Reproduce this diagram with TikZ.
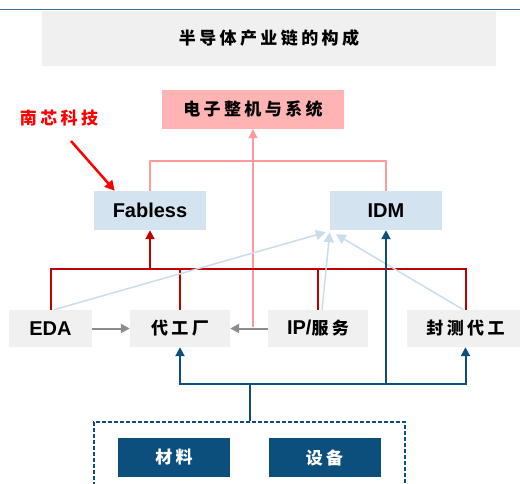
\documentclass[tikz,border=0pt]{standalone}
\usepackage{fontspec}
\setmainfont{Liberation Sans}
\newfontfamily\cjk[LetterSpace=20]{Noto Sans CJK SC}
\usetikzlibrary{arrows.meta}
\definecolor{rulecol}{HTML}{3B6E92}
\definecolor{paleg}{HTML}{F0F0F0}
\definecolor{palepink}{HTML}{FFB3B3}
\definecolor{paleblue}{HTML}{D3E3EF}
\definecolor{pinkln}{HTML}{FF9A9A}
\definecolor{darkred}{HTML}{C00000}
\definecolor{lightln}{HTML}{C9DDEB}
\definecolor{greyln}{HTML}{8C8C8C}
\definecolor{navy}{HTML}{0C4F7C}
\begin{document}
\begin{tikzpicture}[x=1pt,y=-1pt,
    box/.style={minimum height=39pt,inner sep=0pt,font=\fontsize{17}{20}\selectfont\cjk\bfseries},
    latin/.style={font=\fontsize{20}{24}\selectfont\bfseries},
    greybox/.style={box,fill=paleg,minimum height=37pt},
    pinkbox/.style={box,fill=palepink},
    bluebox/.style={box,fill=paleblue,minimum width=112pt},
    navybox/.style={box,fill=navy,text=white,minimum width=112pt},
    basebox/.style={draw=navy,line width=1.3pt,dash pattern=on 4pt off 2pt,minimum width=311pt,minimum height=68pt},
    redlabel/.style={text=red,font=\fontsize{17}{20}\selectfont\cjk\bfseries},
    tip/.style={-{Triangle[width=9pt,length=9pt]}},
    pinkline/.style={pinkln,line width=1.5pt},
    redline/.style={darkred,line width=2pt},
    lightline/.style={lightln,line width=1.5pt,-{Triangle[width=10pt,length=10pt]}},
    greyline/.style={greyln,line width=2pt,tip},
    navyline/.style={navy,line width=2pt}]
\useasboundingbox (0,0) rectangle (520,484);
\draw[rulecol,line width=1pt] (0,10) -- (520,10);
% boxes
\node[greybox,minimum width=454pt,minimum height=55pt] (title) at (269,38.5) {半导体产业链的构成};
\node[pinkbox,minimum width=182pt] (sys) at (253,109.5) {电子整机与系统};
\node[redlabel] (nanxin) at (59,118) {南芯科技};
\node[bluebox,latin] (fabless) at (150,210.5) {Fabless};
\node[bluebox,latin] (idm) at (386,210.5) {IDM};
\node[greybox,latin,minimum width=83pt] (eda) at (50.5,328.5) {EDA};
\node[greybox,minimum width=100pt] (fab) at (180,328.5) {代工厂};
\node[greybox,minimum width=100pt] (ip) at (318,328.5) {{\fontsize{20}{24}\selectfont\rmfamily\bfseries IP/}服务};
\node[greybox,minimum width=117pt] (osat) at (465.5,328.5) {封测代工};
\node[basebox] (base) at (249.5,456) {};
\node[navybox] (mat) at (174,457.5) {材料};
\node[navybox] (equ) at (324.5,457.5) {设备};
% pink
\draw[pinkline] (fabless.north) -- ++(0,-30) -| (idm.north);
\coordinate (pk) at (253,327);
\draw[pinkline,tip] (pk) -- (sys.south);
% callout
\coordinate (tail) at (71,141);
\draw[red,line width=2.5pt,-{Triangle[width=10pt,length=10pt]}] (tail) -- ([xshift=21pt]fabless.north west);
% dark red
\draw[redline] (eda.north) -- ++(0,-41) coordinate (rb) -| (osat.north);
\draw[redline] (fab.north) -- (fab.north |- rb);
\draw[redline] (ip.north) -- (ip.north |- rb);
\draw[redline,tip] (fabless.south |- rb) -- (fabless.south);
% light blue
\draw[lightline] ([xshift=3pt]eda.north) -- ([xshift=-4pt,yshift=-2pt]idm.south west);
\draw[lightline] ([xshift=4pt]ip.north) -- ([xshift=0pt,yshift=-2pt]idm.south west);
\draw[lightline] ([xshift=-2pt]osat.north) -- ([xshift=6pt,yshift=-4pt]idm.south west);
% grey
\draw[greyline] (eda) -- (fab);
\draw[greyline] (ip) -- (fab);
% navy
\draw[navyline] (base.north) -- ++(0,-37) coordinate (bb);
\draw[navyline,tip] (bb) -| (fab.south);
\draw[navyline,tip] (bb) -| (osat.south);
\draw[navyline,tip] (idm.south |- bb) -- (idm.south);
\end{tikzpicture}
\end{document}
